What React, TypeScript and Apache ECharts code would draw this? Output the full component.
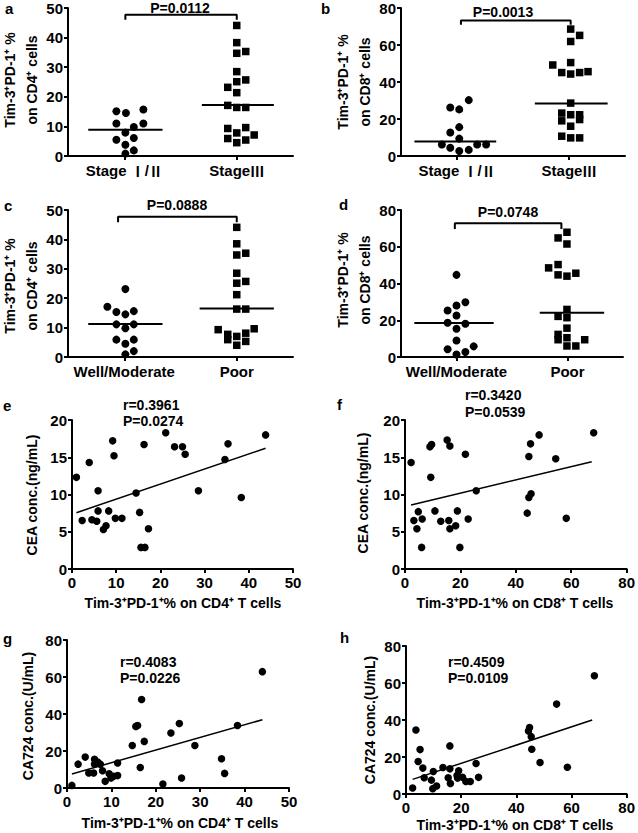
import React, { useEffect, useRef } from "react";
import * as echarts from "echarts";

const FONT = '"Liberation Sans", Arial, Helvetica, sans-serif';
const CJK = '"Noto Sans CJK SC", "Noto Sans CJK JP", sans-serif';

// ---------- Panel a ----------
const aCats = ["Stage Ⅰ/Ⅱ", "StageⅢ"];
const aCircles = [[0.86, 15.1], [1.03, 14.5], [1.34, 15.7], [0.86, 11], [1.34, 11], [1.17, 9.8], [1.02, 7.9], [0.86, 5.5], [1.17, 6.1], [1.02, 3.8], [1.17, 1.9], [1.02, 0.8]];
const aSquares = [[3.0, 44.1], [3.0, 38.3], [3.0, 34.7], [3.16, 35.3], [3.0, 28.5], [3.0, 25.1], [3.16, 25.7], [2.84, 23.2], [3.0, 21.4], [2.84, 17.1], [3.0, 16.4], [3.16, 16.4], [2.84, 9.3], [3.16, 9.6], [3.0, 7.8], [3.31, 7.1], [2.84, 5.9], [3.16, 5.4], [3.0, 4.5]];
const aMedians = [8.9, 17.2];
const aMedianSpans = [[0.36, 1.68], [2.38, 3.66]];
const aBracket = [[1.02, 46], [1.02, 47.7], [3.0, 47.7], [3.0, 46]];
const aP = "P=0.0112";

// ---------- Panel b ----------
const bCats = ["Stage Ⅰ/Ⅱ", "StageⅢ"];
const bCircles = [[1.21, 30.2], [0.88, 26.2], [1.04, 25.2], [1.04, 15.6], [0.88, 12.7], [1.04, 9.4], [0.73, 6.2], [0.88, 4.5], [1.36, 6.2], [1.52, 6.2], [1.04, 2.7], [1.21, 3.3]];
const bSquares = [[3.03, 68.6], [3.19, 65.2], [3.03, 61.9], [2.71, 49.2], [3.03, 50.5], [2.87, 45.1], [3.03, 44.3], [3.19, 45.1], [3.34, 45.6], [3.03, 28.6], [2.87, 23.2], [3.03, 22.3], [3.19, 22.3], [2.87, 19.0], [3.19, 19.7], [3.03, 16.1], [2.87, 10.7], [3.03, 9.8], [3.19, 9.8]];
const bMedians = [7.8, 28.4];
const bMedianSpans = [[0.24, 1.7], [2.39, 3.69]];
const bBracket = [[1.07, 71], [1.07, 73.3], [3.03, 73.3], [3.03, 71]];
const bP = "P=0.0013";

// ---------- Panel c ----------
const cCats = ["Well/Moderate", "Poor"];
const cCircles = [[1.02, 23.1], [0.7, 17.1], [0.86, 15.3], [1.02, 14.5], [1.17, 15.6], [0.86, 11.1], [1.17, 11.1], [1.02, 9.8], [0.86, 5.9], [1.17, 5.9], [1.02, 4.5], [1.17, 2.0], [1.02, 0.9]];
const cSquares = [[3.0, 44.1], [3.0, 38.5], [3.0, 34.7], [3.16, 35.3], [3.0, 28.5], [3.0, 25.1], [3.16, 25.7], [3.0, 21.2], [3.0, 16.3], [3.16, 16.3], [2.67, 9.3], [2.84, 7.7], [2.84, 5.9], [3.0, 7.0], [3.16, 8.1], [3.31, 9.6], [3.16, 5.3], [3.0, 4.0]];
const cMedians = [11.2, 16.5];
const cMedianSpans = [[0.36, 1.68], [2.34, 3.66]];
const cBracket = [[0.89, 45.8], [0.89, 47.7], [3.0, 47.7], [3.0, 45.8]];
const cP = "P=0.0888";

// ---------- Panel d ----------
const dCats = ["Well/Moderate", "Poor"];
const dCircles = [[1.0, 44.7], [0.84, 25.3], [1.0, 28.0], [1.16, 29.8], [1.0, 22.6], [0.84, 18.6], [1.16, 18.1], [1.0, 15.4], [1.0, 9.0], [0.84, 4.2], [1.31, 5.8], [1.16, 2.7], [1.0, 1.4]];
const dSquares = [[2.83, 64.8], [2.99, 67.9], [2.99, 61.5], [2.66, 48.5], [2.83, 50.3], [2.83, 44.7], [2.99, 44.0], [3.15, 45.6], [2.99, 25.9], [2.83, 22.1], [2.99, 21.4], [2.99, 15.7], [2.83, 12.3], [2.83, 9.4], [2.99, 10.5], [3.31, 9.4], [2.99, 6.0], [3.15, 6.0]];
const dMedians = [18.5, 24.1];
const dMedianSpans = [[0.24, 1.67], [2.5, 3.66]];
const dBracket = [[0.97, 69.7], [0.97, 72.8], [2.89, 72.8], [2.89, 69.7]];
const dP = "P=0.0748";

// ---------- Panel e ----------
const ePoints = [[1.0, 12.3], [2.3, 6.5], [3.9, 14.3], [4.5, 6.6], [5.6, 6.4], [5.9, 10.5], [5.9, 7.8], [7.1, 5.3], [7.7, 5.8], [8.3, 7.8], [9.2, 17.2], [9.5, 15.2], [9.8, 6.8], [11.3, 6.8], [14.5, 10.2], [15.3, 7.6], [15.6, 2.9], [16.5, 2.9], [16.3, 16.7], [17.3, 5.4], [21.2, 18.3], [23.2, 16.4], [25.0, 16.4], [25.6, 15.4], [28.6, 10.5], [34.6, 14.7], [35.3, 16.8], [38.3, 9.6], [43.8, 18.0]];
const eFit = [[1.0, 7.56], [43.8, 16.2]];
const eStats = ["r=0.3961", "P=0.0274"];

// ---------- Panel f ----------
const fPoints = [[2.2, 14.3], [3.2, 6.5], [4.3, 5.4], [4.8, 7.7], [6.2, 6.7], [6.0, 2.9], [9.0, 16.4], [9.6, 16.7], [9.3, 12.3], [10.8, 7.8], [12.9, 6.4], [15.2, 17.3], [16.2, 16.5], [15.8, 6.5], [16.2, 5.4], [18.9, 7.8], [18.3, 5.8], [19.8, 2.9], [21.8, 15.4], [22.8, 6.7], [25.7, 10.5], [44.1, 7.5], [44.7, 15.1], [44.7, 9.6], [45.5, 10.1], [45.3, 16.8], [48.4, 18.0], [54.4, 14.8], [58.2, 6.8], [68.1, 18.3]];
const fFit = [[2.2, 8.6], [67.4, 14.4]];
const fStats = ["r=0.3420", "P=0.0539"];

// ---------- Panel g ----------
const gPoints = [[1.1, 1.4], [2.5, 12.9], [4.1, 16.7], [4.9, 8.1], [6.0, 8.1], [6.2, 15.5], [6.2, 12.9], [6.9, 14.0], [7.5, 12.9], [8.0, 9.3], [8.6, 3.6], [9.5, 7.7], [9.9, 5.4], [10.5, 6.3], [11.4, 6.7], [11.4, 13.5], [14.7, 23.0], [15.5, 33.3], [15.9, 33.8], [16.5, 11.1], [16.8, 47.8], [17.4, 25.2], [21.6, 2.2], [23.4, 29.7], [25.3, 34.9], [25.8, 5.4], [28.8, 23.0], [34.8, 15.8], [35.5, 7.9], [38.4, 33.8], [44.0, 62.9]];
const gFit = [[1.1, 7.6], [44.0, 36.9]];
const gStats = ["r=0.4083", "P=0.0226"];

// ---------- Panel h ----------
const hPoints = [[2.4, 3.2], [3.6, 34.6], [4.4, 17.6], [5.1, 24.0], [6.1, 14.0], [6.6, 8.8], [9.2, 7.5], [9.9, 12.2], [9.7, 2.9], [11.1, 4.3], [13.4, 14.3], [15.3, 8.8], [15.9, 13.6], [15.9, 26.0], [16.1, 5.7], [18.5, 10.0], [19.1, 12.6], [18.7, 8.6], [20.5, 9.0], [21.7, 6.8], [23.3, 6.8], [25.4, 16.5], [26.3, 9.0], [44.4, 34.1], [44.8, 35.9], [45.4, 31.0], [45.6, 24.2], [48.6, 17.0], [54.6, 48.6], [58.5, 14.5], [68.3, 63.9]];
const hFit = [[2.4, 7.9], [67.5, 40.0]];
const hStats = ["r=0.4509", "P=0.0109"];

const yTitleCD4 = "Tim-3⁺PD-1⁺ %\non CD4⁺ cells";
const yTitleCD8 = "Tim-3⁺PD-1⁺ %\non CD8⁺ cells";
const xTitleCD4 = "Tim-3⁺PD-1⁺% on CD4⁺ T cells";
const xTitleCD8 = "Tim-3⁺PD-1⁺% on CD8⁺ T cells";
const yTitleCEA = "CEA conc.(ng/mL)";
const yTitleCA = "CA724 conc.(U/mL)";

const BLACK = "#000";
const axisLine = { show: true, onZero: false, lineStyle: { color: BLACK, width: 2 } };
const axisTick = { show: true, length: 4, lineStyle: { color: BLACK, width: 2 } };
const axisLabel = { color: BLACK, fontWeight: "bold" as const, fontSize: 15, fontFamily: FONT, margin: 6 };

export default function App() {
  const ref = useRef<HTMLDivElement>(null);
  useEffect(() => {
    if (!ref.current) return;
    const chart = echarts.init(ref.current, null, { renderer: "svg" });

    const grids: any[] = [];
    const xAxes: any[] = [];
    const yAxes: any[] = [];
    const series: any[] = [];

    const catPanel = (
      grid: any, cats: string[], circles: number[][], squares: number[][],
      medians: number[], spans: number[][], bracket: number[][], yMax: number, yInt: number
    ) => {
      const gi = grids.length;
      grids.push(grid);
      xAxes.push({
        type: "category", gridIndex: gi, data: cats, boundaryGap: true,
        axisLine, axisTick: { ...axisTick, alignWithLabel: true },
        axisLabel: {
          ...axisLabel, margin: 7, interval: 0, hideOverlap: false,
          formatter: (v: string) => v.replace(/([ⅠⅡⅢ])/g, "{r|$1}"),
          rich: { r: { fontFamily: CJK, fontWeight: "bold", fontSize: 14, color: BLACK } },
        },
      });
      const valX = xAxes.length;
      xAxes.push({ type: "value", gridIndex: gi, min: 0, max: 4, show: false });
      const yi = yAxes.length;
      yAxes.push({
        type: "value", gridIndex: gi, min: 0, max: yMax, interval: yInt,
        axisLine, axisTick, axisLabel: { ...axisLabel, margin: 5 }, splitLine: { show: false },
      });
      series.push({ type: "scatter", xAxisIndex: valX, yAxisIndex: yi, symbol: "circle", symbolSize: 8, itemStyle: { color: BLACK, opacity: 1 }, data: circles });
      series.push({ type: "scatter", xAxisIndex: valX, yAxisIndex: yi, symbol: "rect", symbolSize: 7.5, itemStyle: { color: BLACK, opacity: 1 }, data: squares });
      medians.forEach((m, i) => {
        series.push({
          type: "line", xAxisIndex: valX, yAxisIndex: yi, symbol: "none",
          lineStyle: { color: BLACK, width: 2 }, data: [[spans[i][0], m], [spans[i][1], m]],
        });
      });
      series.push({
        type: "line", xAxisIndex: valX, yAxisIndex: yi, symbol: "none",
        lineStyle: { color: BLACK, width: 2 }, data: bracket,
      });
    };

    const scatterPanel = (
      grid: any, xMax: number, xInt: number, yMax: number, yInt: number,
      pts: number[][], fit: number[][]
    ) => {
      const gi = grids.length;
      grids.push(grid);
      const xi = xAxes.length;
      xAxes.push({
        type: "value", gridIndex: gi, min: 0, max: xMax, interval: xInt,
        axisLine, axisTick, axisLabel: { ...axisLabel, margin: 6 }, splitLine: { show: false },
      });
      const yi = yAxes.length;
      yAxes.push({
        type: "value", gridIndex: gi, min: 0, max: yMax, interval: yInt,
        axisLine, axisTick, axisLabel: { ...axisLabel, margin: 5 }, splitLine: { show: false },
      });
      series.push({ type: "scatter", xAxisIndex: xi, yAxisIndex: yi, symbol: "circle", symbolSize: 7.5, itemStyle: { color: BLACK, opacity: 1 }, data: pts });
      series.push({ type: "line", xAxisIndex: xi, yAxisIndex: yi, symbol: "none", lineStyle: { color: BLACK, width: 1.5 }, data: fit });
    };

    catPanel({ left: 68, top: 8, width: 225, height: 148 }, aCats, aCircles, aSquares, aMedians, aMedianSpans, aBracket, 50, 10);
    catPanel({ left: 401, top: 8, width: 224, height: 148 }, bCats, bCircles, bSquares, bMedians, bMedianSpans, bBracket, 80, 20);
    catPanel({ left: 68, top: 210, width: 225, height: 147 }, cCats, cCircles, cSquares, cMedians, cMedianSpans, cBracket, 50, 10);
    catPanel({ left: 401, top: 210, width: 222, height: 147 }, dCats, dCircles, dSquares, dMedians, dMedianSpans, dBracket, 80, 20);
    scatterPanel({ left: 72, top: 420, width: 221, height: 149 }, 50, 10, 20, 5, ePoints, eFit);
    scatterPanel({ left: 405, top: 420, width: 222, height: 149 }, 80, 20, 20, 5, fPoints, fFit);
    scatterPanel({ left: 67, top: 640, width: 222, height: 148 }, 50, 10, 80, 20, gPoints, gFit);
    scatterPanel({ left: 406, top: 646, width: 224, height: 148 }, 80, 20, 80, 20, hPoints, hFit);

    const txt = (x: number, y: number, text: string, opts: any = {}) => ({
      type: "text", x, y, rotation: opts.rotation || 0,
      style: {
        text, fill: BLACK, fontFamily: FONT, fontWeight: "bold",
        fontSize: opts.fontSize || 14, align: opts.align || "center",
        verticalAlign: "middle", lineHeight: opts.lineHeight || 18,
      },
    });
    const rot = Math.PI / 2;

    const graphic = [
      // panel letters
      txt(5, 8, "a", { fontSize: 15, align: "left" }),
      txt(321, 8, "b", { fontSize: 15, align: "left" }),
      txt(4, 205, "c", { fontSize: 15, align: "left" }),
      txt(339, 204, "d", { fontSize: 15, align: "left" }),
      txt(3, 405, "e", { fontSize: 15, align: "left" }),
      txt(337, 404, "f", { fontSize: 15, align: "left" }),
      txt(3, 638, "g", { fontSize: 15, align: "left" }),
      txt(340, 637, "h", { fontSize: 15, align: "left" }),
      // P values for group comparisons
      txt(180, 8, aP),
      txt(503, 12, bP),
      txt(177, 205, cP),
      txt(508, 212, dP),
      // y titles of group panels
      txt(21, 80, yTitleCD4, { rotation: rot, lineHeight: 22 }),
      txt(354, 82, yTitleCD8, { rotation: rot, lineHeight: 22 }),
      txt(21, 286, yTitleCD4, { rotation: rot, lineHeight: 22 }),
      txt(354, 280, yTitleCD8, { rotation: rot, lineHeight: 22 }),
      // correlation stats
      txt(123, 405, eStats[0], { align: "left" }),
      txt(123, 421, eStats[1], { align: "left" }),
      txt(465, 395, fStats[0], { align: "left" }),
      txt(465, 412, fStats[1], { align: "left" }),
      txt(120, 662, gStats[0], { align: "left" }),
      txt(120, 678, gStats[1], { align: "left" }),
      txt(448, 662, hStats[0], { align: "left" }),
      txt(448, 678, hStats[1], { align: "left" }),
      // x titles
      txt(183, 603, xTitleCD4),
      txt(515, 603, xTitleCD8),
      txt(180, 823, xTitleCD4),
      txt(515, 825, xTitleCD8),
      // y titles
      txt(32, 495, yTitleCEA, { rotation: rot }),
      txt(363, 493, yTitleCEA, { rotation: rot }),
      txt(28, 716, yTitleCA, { rotation: rot }),
      txt(370, 720, yTitleCA, { rotation: rot }),
    ];

    chart.setOption({
      animation: false,
      backgroundColor: "#fff",
      grid: grids,
      xAxis: xAxes,
      yAxis: yAxes,
      series,
      graphic,
    });
    return () => chart.dispose();
  }, []);
  return (
    <div
      ref={ref}
      style={{ position: "absolute", left: 0, top: 0, width: 638, height: 833, background: "#fff" }}
    />
  );
}
